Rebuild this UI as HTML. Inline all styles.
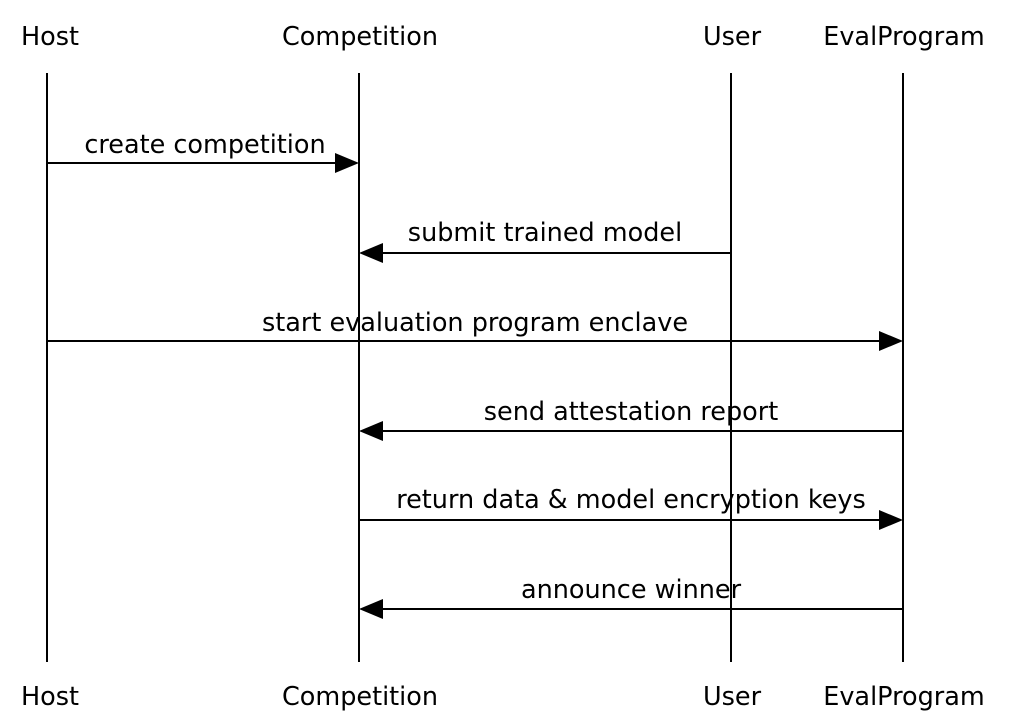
<!DOCTYPE html>
<html><head><meta charset="utf-8"><style>
html,body{margin:0;padding:0;background:#fff;}
svg{display:block;}
text{font-family:"DejaVu Sans","Liberation Sans",sans-serif;font-size:25.5px;fill:#000;}
</style></head><body>
<svg width="1012" height="728" viewBox="0 0 1012 728" xmlns="http://www.w3.org/2000/svg">
<g stroke="#000" stroke-width="2">
<line x1="47" y1="73" x2="47" y2="662"/>
<line x1="359" y1="73" x2="359" y2="662"/>
<line x1="731" y1="73" x2="731" y2="662"/>
<line x1="903" y1="73" x2="903" y2="662"/>
<line x1="47" y1="163" x2="336" y2="163"/>
<line x1="382" y1="253" x2="731" y2="253"/>
<line x1="47" y1="341" x2="880" y2="341"/>
<line x1="382" y1="431" x2="903" y2="431"/>
<line x1="359" y1="520" x2="880" y2="520"/>
<line x1="382" y1="609" x2="903" y2="609"/>
</g>
<g fill="#000">
<polygon points="335,153 359,163 335,173"/>
<polygon points="383,243 359,253 383,263"/>
<polygon points="879,331 903,341 879,351"/>
<polygon points="383,421 359,431 383,441"/>
<polygon points="879,510 903,520 879,530"/>
<polygon points="383,599 359,609 383,619"/>
</g>
<g text-anchor="middle">
<text x="50" y="45">Host</text>
<text x="360" y="45">Competition</text>
<text x="732" y="45">User</text>
<text x="904" y="45">EvalProgram</text>
<text x="50" y="705">Host</text>
<text x="360" y="705">Competition</text>
<text x="732" y="705">User</text>
<text x="904" y="705">EvalProgram</text>
<text x="205" y="153">create competition</text>
<text x="545" y="241">submit trained model</text>
<text x="475" y="331">start evaluation program enclave</text>
<text x="631" y="420">send attestation report</text>
<text x="631" y="508">return data &amp; model encryption keys</text>
<text x="631" y="598">announce winner</text>
</g>
</svg>
</body></html>
